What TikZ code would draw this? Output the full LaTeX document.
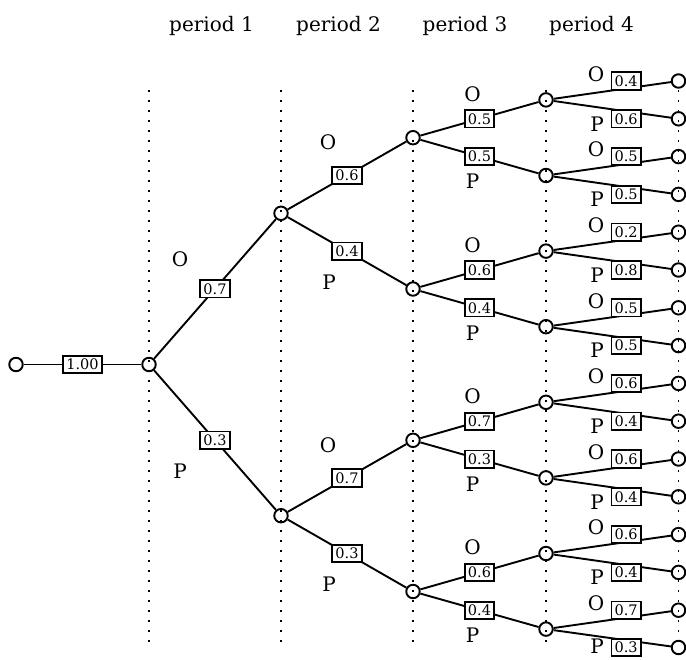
\documentclass[tikz,border=0pt]{standalone}
\usepackage{fontspec}
\setmainfont{DejaVu Serif}
\usetikzlibrary{positioning}

\begin{document}
\begin{tikzpicture}[
    x=1pt, y=-1pt,
    state/.style={circle, draw, line width=1.9pt, minimum size=13.5pt, inner sep=0pt},
    prob/.style={rectangle, draw, fill=white, line width=1.8pt, inner xsep=3.2pt, inner ysep=3.2pt, font=\fontsize{14.5}{14.5}\selectfont},
    outcome/.style={inner sep=0pt, font=\fontsize{20}{20}\selectfont},
    period/.style={inner sep=0pt, anchor=base, font=\fontsize{20}{20}\selectfont},
    branch/.style={line width=1.9pt},
    stage/.style={line width=1.6pt, dash pattern=on 1.6pt off 8.4pt},
  ]
  \useasboundingbox (0,0) rectangle (686,660);

  % Period headings
  \node[period] (h1) at (211.5,32) {period 1};
  \node[period] (h2) at (338.5,32) {period 2};
  \node[period] (h3) at (465,32)   {period 3};
  \node[period] (h4) at (591.5,32) {period 4};

  % Stage lines
  \draw[stage] (149,90) -- (149,648);
  \draw[stage] (281,90) -- (281,648);
  \draw[stage] (413,90) -- (413,648);
  \draw[stage] (546,90) -- (546,648);
  \draw[stage] (678.5,90) -- (678.5,648);

  % Root and period 1
  \node[state] (s) at (16,364.5)  {};
  \node[state] (a) at (149,364.5) {};

  % Period 2
  \node[state] (aO) at (281,213.3) {};
  \node[state] (aP) at (281,515.7) {};

  % Period 3
  \node[state] (aOO) at (413,137.7) {};
  \node[state] (aOP) at (413,289)   {};
  \node[state] (aPO) at (413,440.3) {};
  \node[state] (aPP) at (413,591.5) {};

  % Period 4
  \node[state] (aOOO) at (546,99.9)  {};
  \node[state] (aOOP) at (546,175.5) {};
  \node[state] (aOPO) at (546,251.1) {};
  \node[state] (aOPP) at (546,326.7) {};
  \node[state] (aPOO) at (546,402.3) {};
  \node[state] (aPOP) at (546,477.9) {};
  \node[state] (aPPO) at (546,553.5) {};
  \node[state] (aPPP) at (546,629.1) {};

  % End of period 4
  \node[state] (aOOOO) at (678.5,81)    {};
  \node[state] (aOOOP) at (678.5,118.8) {};
  \node[state] (aOOPO) at (678.5,156.6) {};
  \node[state] (aOOPP) at (678.5,194.4) {};
  \node[state] (aOPOO) at (678.5,232.2) {};
  \node[state] (aOPOP) at (678.5,270)   {};
  \node[state] (aOPPO) at (678.5,307.8) {};
  \node[state] (aOPPP) at (678.5,345.6) {};
  \node[state] (aPOOO) at (678.5,383.4) {};
  \node[state] (aPOOP) at (678.5,421.2) {};
  \node[state] (aPOPO) at (678.5,459)   {};
  \node[state] (aPOPP) at (678.5,496.8) {};
  \node[state] (aPPOO) at (678.5,534.6) {};
  \node[state] (aPPOP) at (678.5,572.4) {};
  \node[state] (aPPPO) at (678.5,610.2) {};
  \node[state] (aPPPP) at (678.5,647.5) {};

  % Start edge
  \draw[branch] (s) -- node[prob] (p) {1.00} (a);

  % Period 1 edges
  \draw[branch] (a) -- node[prob] (pO) {0.7} (aO);  \node[outcome] (oO) at ([shift={(-35,-30)}]pO) {O};
  \draw[branch] (a) -- node[prob] (pP) {0.3} (aP);  \node[outcome] (oP) at ([shift={(-35,31)}]pP) {P};

  % Period 2 edges
  \draw[branch] (aO) -- node[prob] (pOO) {0.6} (aOO);  \node[outcome] (oOO) at ([shift={(-19,-33)}]pOO) {O};
  \draw[branch] (aO) -- node[prob] (pOP) {0.4} (aOP);  \node[outcome] (oOP) at ([shift={(-18,31)}]pOP) {P};
  \draw[branch] (aP) -- node[prob] (pPO) {0.7} (aPO);  \node[outcome] (oPO) at ([shift={(-19,-33)}]pPO) {O};
  \draw[branch] (aP) -- node[prob] (pPP) {0.3} (aPP);  \node[outcome] (oPP) at ([shift={(-18,31)}]pPP) {P};

  % Period 3 edges
  \draw[branch] (aOO) -- node[prob] (pOOO) {0.5} (aOOO);  \node[outcome] (oOOO) at ([shift={(-7,-25)}]pOOO) {O};
  \draw[branch] (aOO) -- node[prob] (pOOP) {0.5} (aOOP);  \node[outcome] (oOOP) at ([shift={(-7,25)}]pOOP) {P};
  \draw[branch] (aOP) -- node[prob] (pOPO) {0.6} (aOPO);  \node[outcome] (oOPO) at ([shift={(-7,-25)}]pOPO) {O};
  \draw[branch] (aOP) -- node[prob] (pOPP) {0.4} (aOPP);  \node[outcome] (oOPP) at ([shift={(-7,25)}]pOPP) {P};
  \draw[branch] (aPO) -- node[prob] (pPOO) {0.7} (aPOO);  \node[outcome] (oPOO) at ([shift={(-7,-25)}]pPOO) {O};
  \draw[branch] (aPO) -- node[prob] (pPOP) {0.3} (aPOP);  \node[outcome] (oPOP) at ([shift={(-7,25)}]pPOP) {P};
  \draw[branch] (aPP) -- node[prob] (pPPO) {0.6} (aPPO);  \node[outcome] (oPPO) at ([shift={(-7,-25)}]pPPO) {O};
  \draw[branch] (aPP) -- node[prob] (pPPP) {0.4} (aPPP);  \node[outcome] (oPPP) at ([shift={(-7,25)}]pPPP) {P};

  % Period 4 edges
  \draw[branch] (aOOO) -- (aOOOO);  \node[prob, left=29pt of aOOOO] (pOOOO) {0.4};  \node[outcome] (oOOOO) at ([shift={(-30,-7)}]pOOOO) {O};
  \draw[branch] (aOOO) -- (aOOOP);  \node[prob, left=29pt of aOOOP] (pOOOP) {0.6};  \node[outcome] (oOOOP) at ([shift={(-29,5)}]pOOOP) {P};
  \draw[branch] (aOOP) -- (aOOPO);  \node[prob, left=29pt of aOOPO] (pOOPO) {0.5};  \node[outcome] (oOOPO) at ([shift={(-30,-7)}]pOOPO) {O};
  \draw[branch] (aOOP) -- (aOOPP);  \node[prob, left=29pt of aOOPP] (pOOPP) {0.5};  \node[outcome] (oOOPP) at ([shift={(-29,5)}]pOOPP) {P};
  \draw[branch] (aOPO) -- (aOPOO);  \node[prob, left=29pt of aOPOO] (pOPOO) {0.2};  \node[outcome] (oOPOO) at ([shift={(-30,-7)}]pOPOO) {O};
  \draw[branch] (aOPO) -- (aOPOP);  \node[prob, left=29pt of aOPOP] (pOPOP) {0.8};  \node[outcome] (oOPOP) at ([shift={(-29,5)}]pOPOP) {P};
  \draw[branch] (aOPP) -- (aOPPO);  \node[prob, left=29pt of aOPPO] (pOPPO) {0.5};  \node[outcome] (oOPPO) at ([shift={(-30,-7)}]pOPPO) {O};
  \draw[branch] (aOPP) -- (aOPPP);  \node[prob, left=29pt of aOPPP] (pOPPP) {0.5};  \node[outcome] (oOPPP) at ([shift={(-29,5)}]pOPPP) {P};
  \draw[branch] (aPOO) -- (aPOOO);  \node[prob, left=29pt of aPOOO] (pPOOO) {0.6};  \node[outcome] (oPOOO) at ([shift={(-30,-7)}]pPOOO) {O};
  \draw[branch] (aPOO) -- (aPOOP);  \node[prob, left=29pt of aPOOP] (pPOOP) {0.4};  \node[outcome] (oPOOP) at ([shift={(-29,5)}]pPOOP) {P};
  \draw[branch] (aPOP) -- (aPOPO);  \node[prob, left=29pt of aPOPO] (pPOPO) {0.6};  \node[outcome] (oPOPO) at ([shift={(-30,-7)}]pPOPO) {O};
  \draw[branch] (aPOP) -- (aPOPP);  \node[prob, left=29pt of aPOPP] (pPOPP) {0.4};  \node[outcome] (oPOPP) at ([shift={(-29,5)}]pPOPP) {P};
  \draw[branch] (aPPO) -- (aPPOO);  \node[prob, left=29pt of aPPOO] (pPPOO) {0.6};  \node[outcome] (oPPOO) at ([shift={(-30,-7)}]pPPOO) {O};
  \draw[branch] (aPPO) -- (aPPOP);  \node[prob, left=29pt of aPPOP] (pPPOP) {0.4};  \node[outcome] (oPPOP) at ([shift={(-29,5)}]pPPOP) {P};
  \draw[branch] (aPPP) -- (aPPPO);  \node[prob, left=29pt of aPPPO] (pPPPO) {0.7};  \node[outcome] (oPPPO) at ([shift={(-30,-7)}]pPPPO) {O};
  \draw[branch] (aPPP) -- (aPPPP);  \node[prob, left=29pt of aPPPP] (pPPPP) {0.3};  \node[outcome] (oPPPP) at ([shift={(-29,-1.5)}]pPPPP) {P};

\end{tikzpicture}
\end{document}
